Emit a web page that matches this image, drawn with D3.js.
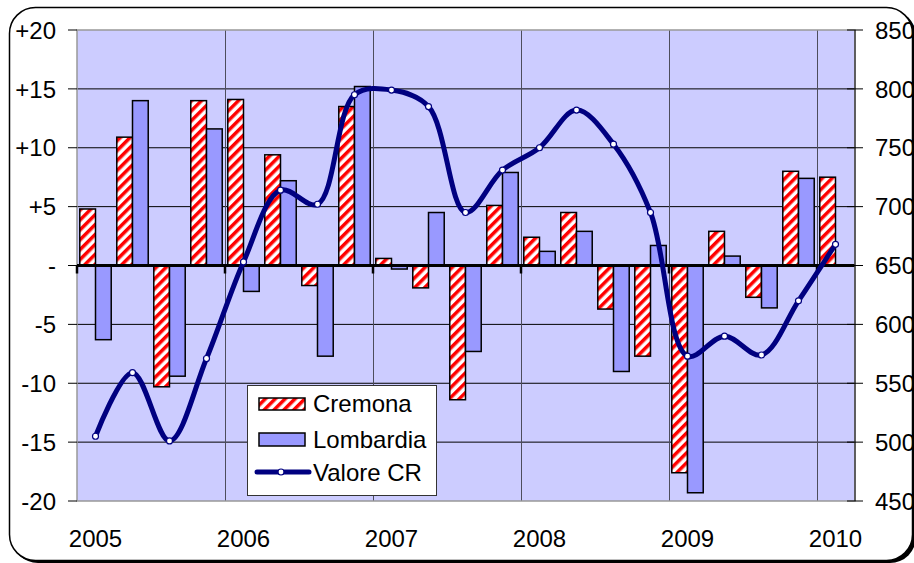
<!DOCTYPE html>
<html>
<head>
<meta charset="utf-8">
<script src="https://cdn.jsdelivr.net/npm/d3@7/dist/d3.min.js"></script>
<style>
  body { margin: 0; background: #fff; }
  svg { display: block; font-family: "Liberation Sans", Arial, sans-serif; }
</style>
</head>
<body>
<div id="chart"></div>
<script>
// quarterly data, 2005 T1 .. 2010 T1
var quarters = ["2005-1","2005-2","2005-3","2005-4",
                "2006-1","2006-2","2006-3","2006-4",
                "2007-1","2007-2","2007-3","2007-4",
                "2008-1","2008-2","2008-3","2008-4",
                "2009-1","2009-2","2009-3","2009-4",
                "2010-1"];
var yearLabels = ["2005","2006","2007","2008","2009","2010"];

var cremona   = [4.8, 10.9, -10.3, 14.0, 14.1, 9.4, -1.7, 13.5, 0.6, -1.9, -11.4, 5.1,
                 2.4, 4.5, -3.7, -7.7, -17.6, 2.9, -2.7, 8.0, 7.5];
var lombardia = [-6.3, 14.0, -9.4, 11.6, -2.2, 7.2, -7.7, 15.2, -0.3, 4.5, -7.3, 7.9,
                 1.2, 2.9, -9.0, 1.7, -19.3, 0.8, -3.6, 7.4, null];
var valoreCR  = [505, 559, 501, 571, 653, 714, 702, 795, 799, 785, 695, 731,
                 750, 782, 753, 695, 573, 590, 574, 620, 668];

var leftTicks  = [20, 15, 10, 5, 0, -5, -10, -15, -20];
var rightTicks = [850, 800, 750, 700, 650, 600, 550, 500, 450];

var W = 914, H = 563;
var plot = {left: 77, right: 855, top: 30, bottom: 501};
var fontSize = 24;

var svg = d3.select("#chart").append("svg")
  .attr("width", W)
  .attr("height", H);

var defs = svg.append("defs");
var pat = defs.append("pattern")
  .attr("id", "hatch")
  .attr("patternUnits", "userSpaceOnUse")
  .attr("width", 7)
  .attr("height", 7)
  .attr("patternTransform", "rotate(45)");
pat.append("rect").attr("width", 7).attr("height", 7).attr("fill", "#fff");
pat.append("rect").attr("width", 3.5).attr("height", 7).attr("fill", "#ff0000");

// outer rounded frame with shadow
svg.append("rect")
  .attr("x", 12).attr("y", 10)
  .attr("width", 904).attr("height", 553)
  .attr("rx", 26)
  .attr("fill", "#000");
svg.append("rect")
  .attr("x", 9.5).attr("y", 7.5)
  .attr("width", 903).attr("height", 553)
  .attr("rx", 26)
  .attr("fill", "#fff")
  .attr("stroke", "#000")
  .attr("stroke-width", 1.5);

// scales
var x = d3.scaleBand()
  .domain(quarters)
  .range([plot.left, plot.right - 1])
  .paddingInner(0.15)
  .paddingOuter(0.075);

var xSub = d3.scaleBand()
  .domain(["cremona", "lombardia"])
  .range([0, x.bandwidth()]);

var yL = d3.scaleLinear().domain([-20, 20]).range([plot.bottom, plot.top]);
var yR = d3.scaleLinear().domain([450, 850]).range([plot.bottom, plot.top]);

function catStart(q) { return x(q) - (x.step() - x.bandwidth()) / 2; }

// plot background
svg.append("rect")
  .attr("x", plot.left).attr("y", plot.top)
  .attr("width", plot.right - plot.left)
  .attr("height", plot.bottom - plot.top)
  .attr("fill", "#ccccff");

// horizontal gridlines
svg.append("g")
  .selectAll("line")
  .data(leftTicks.filter(function(d) { return d !== 0 && Math.abs(d) !== 20; }))
  .enter().append("line")
  .attr("x1", plot.left).attr("x2", plot.right)
  .attr("y1", function(d) { return yL(d); })
  .attr("y2", function(d) { return yL(d); })
  .attr("stroke", "#000")
  .attr("stroke-width", 1);

// vertical year gridlines
var yearStarts = quarters.filter(function(q, i) { return i % 4 === 0 && i > 0; });
svg.append("g")
  .selectAll("line")
  .data(yearStarts)
  .enter().append("line")
  .attr("x1", function(d) { return Math.round(catStart(d)) + 0.5; })
  .attr("x2", function(d) { return Math.round(catStart(d)) + 0.5; })
  .attr("y1", plot.top).attr("y2", plot.bottom)
  .attr("stroke", "#4d4d5c")
  .attr("stroke-width", 1);

// plot border (gray)
svg.append("rect")
  .attr("x", plot.left).attr("y", plot.top)
  .attr("width", plot.right - plot.left)
  .attr("height", plot.bottom - plot.top)
  .attr("fill", "none")
  .attr("stroke", "#999999")
  .attr("stroke-width", 1.5);

// bars
var rows = quarters.map(function(q, i) {
  return {q: q, cremona: cremona[i], lombardia: lombardia[i]};
});

var groups = svg.append("g")
  .selectAll("g")
  .data(rows)
  .enter().append("g")
  .attr("transform", function(d) { return "translate(" + x(d.q) + ",0)"; });

groups.selectAll("rect")
  .data(function(d) {
    return ["cremona", "lombardia"]
      .filter(function(k) { return d[k] !== null; })
      .map(function(k) { return {key: k, value: d[k]}; });
  })
  .enter().append("rect")
  .attr("x", function(d) { return xSub(d.key); })
  .attr("width", xSub.bandwidth())
  .attr("y", function(d) { return yL(Math.max(0, d.value)); })
  .attr("height", function(d) { return Math.abs(yL(d.value) - yL(0)); })
  .attr("fill", function(d) { return d.key === "cremona" ? "url(#hatch)" : "#9999ff"; })
  .attr("stroke", "#000")
  .attr("stroke-width", 1.5);

// zero line with year ticks
svg.append("line")
  .attr("x1", plot.left).attr("x2", plot.right)
  .attr("y1", yL(0)).attr("y2", yL(0))
  .attr("stroke", "#000")
  .attr("stroke-width", 3);

svg.append("g")
  .selectAll("line")
  .data(quarters.filter(function(q, i) { return i % 4 === 0; }))
  .enter().append("line")
  .attr("x1", function(d) { return catStart(d); })
  .attr("x2", function(d) { return catStart(d); })
  .attr("y1", yL(0)).attr("y2", yL(0) + 8)
  .attr("stroke", "#000")
  .attr("stroke-width", 2.5);

// right axis line
svg.append("line")
  .attr("x1", plot.right).attr("x2", plot.right)
  .attr("y1", plot.top).attr("y2", plot.bottom)
  .attr("stroke", "#444444")
  .attr("stroke-width", 1.5);

// left axis ticks and labels
var leftAxis = svg.append("g");
leftAxis.selectAll("line")
  .data(leftTicks)
  .enter().append("line")
  .attr("x1", plot.left - 9).attr("x2", plot.left)
  .attr("y1", function(d) { return yL(d); })
  .attr("y2", function(d) { return yL(d); })
  .attr("stroke", "#000");
leftAxis.selectAll("text")
  .data(leftTicks)
  .enter().append("text")
  .attr("x", 56)
  .attr("y", function(d) { return yL(d); })
  .attr("dy", "0.36em")
  .attr("text-anchor", "end")
  .attr("font-size", fontSize)
  .text(function(d) { return d > 0 ? "+" + d : (d === 0 ? "-" : String(d)); });

// right axis ticks and labels
var rightAxis = svg.append("g");
rightAxis.selectAll("line")
  .data(rightTicks)
  .enter().append("line")
  .attr("x1", plot.right - 8).attr("x2", plot.right + 8)
  .attr("y1", function(d) { return yR(d); })
  .attr("y2", function(d) { return yR(d); })
  .attr("stroke", "#000");
rightAxis.selectAll("text")
  .data(rightTicks)
  .enter().append("text")
  .attr("x", 875)
  .attr("y", function(d) { return yR(d); })
  .attr("dy", "0.36em")
  .attr("font-size", fontSize)
  .text(function(d) { return d; });

// x labels at first quarter of each year
svg.append("g")
  .selectAll("text")
  .data(yearLabels)
  .enter().append("text")
  .attr("x", function(d) { return x(d + "-1") + x.bandwidth() / 2; })
  .attr("y", 547)
  .attr("text-anchor", "middle")
  .attr("font-size", fontSize)
  .text(function(d) { return d; });

// Valore CR line
var pts = quarters.map(function(q, i) {
  return [x(q) + x.bandwidth() / 2, yR(valoreCR[i])];
});

svg.append("path")
  .attr("d", d3.line().curve(d3.curveCatmullRom.alpha(0.5))(pts))
  .attr("fill", "none")
  .attr("stroke", "#000080")
  .attr("stroke-width", 5)
  .attr("stroke-linejoin", "round");

svg.append("g")
  .selectAll("circle")
  .data(pts)
  .enter().append("circle")
  .attr("cx", function(d) { return d[0]; })
  .attr("cy", function(d) { return d[1]; })
  .attr("r", 3)
  .attr("fill", "#fff")
  .attr("stroke", "#000080")
  .attr("stroke-width", 1.2);

// legend
var lg = svg.append("g").attr("transform", "translate(247,385)");
lg.append("rect")
  .attr("x", 0.5).attr("y", 0.5)
  .attr("width", 189).attr("height", 110)
  .attr("fill", "#fff")
  .attr("stroke", "#333")
  .attr("stroke-width", 1);

lg.append("rect")
  .attr("x", 12).attr("y", 13).attr("width", 46).attr("height", 12)
  .attr("fill", "url(#hatch)").attr("stroke", "#000").attr("stroke-width", 1.5);
lg.append("rect")
  .attr("x", 12).attr("y", 48).attr("width", 46).attr("height", 13)
  .attr("fill", "#9999ff").attr("stroke", "#000").attr("stroke-width", 1.5);
lg.append("line")
  .attr("x1", 10).attr("x2", 62).attr("y1", 87).attr("y2", 87)
  .attr("stroke", "#000080").attr("stroke-width", 5).attr("stroke-linecap", "round");
lg.append("circle")
  .attr("cx", 34).attr("cy", 87).attr("r", 3)
  .attr("fill", "#fff").attr("stroke", "#000080").attr("stroke-width", 1.2);

var legendLabels = ["Cremona", "Lombardia", "Valore CR"];
lg.selectAll("text")
  .data(legendLabels)
  .enter().append("text")
  .attr("x", 66)
  .attr("y", function(d, i) { return [18, 54, 87][i]; })
  .attr("dy", "0.36em")
  .attr("font-size", fontSize)
  .text(function(d) { return d; });
</script>
</body>
</html>
